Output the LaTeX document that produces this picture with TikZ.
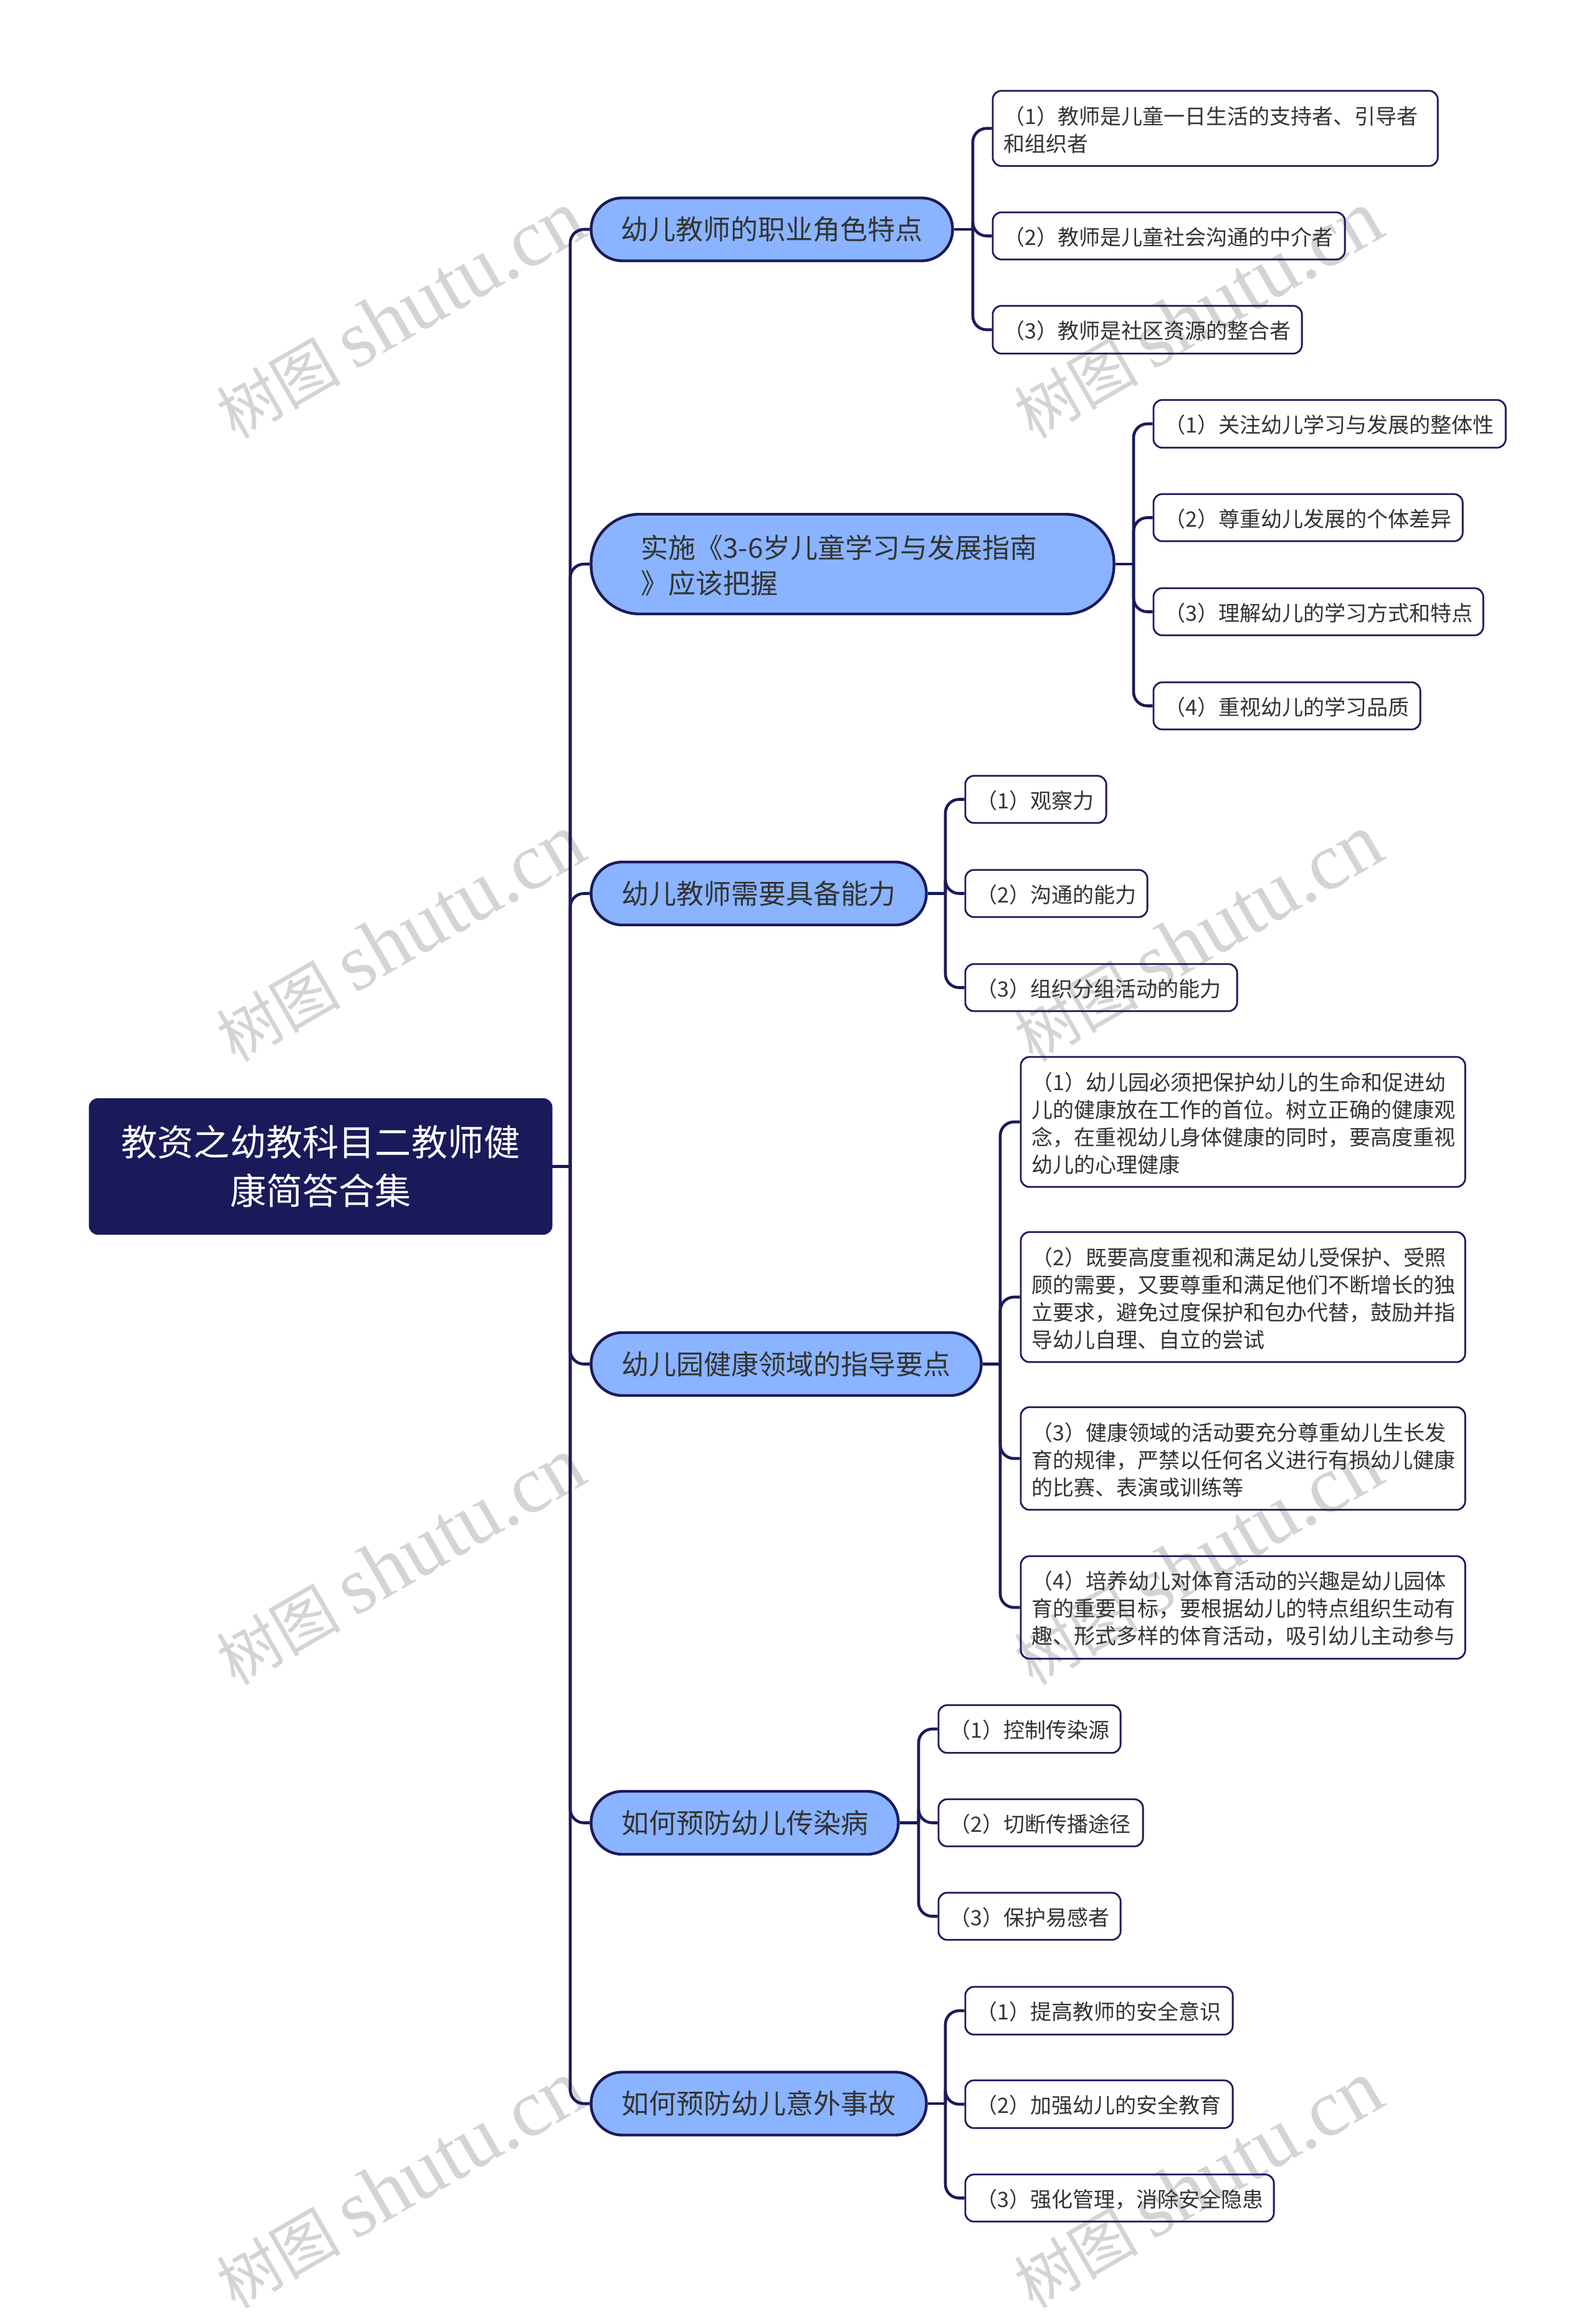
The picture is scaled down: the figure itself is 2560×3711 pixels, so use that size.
\documentclass[tikz,border=0pt]{standalone}
\usepackage{fontspec}
\setmainfont{Noto Sans CJK SC}
\newfontfamily\wmlatin{Liberation Serif}
\definecolor{navy}{HTML}{1A1A5A}
\definecolor{skyb}{HTML}{8AB4FF}
\definecolor{ink}{HTML}{333333}
\definecolor{wm}{HTML}{D4D4D4}
\tikzset{
 x=0.5pt,y=-0.5pt,
 wmark/.style={text=wm,font=\fontsize{50}{60}\selectfont,rotate=30,inner sep=0pt},
 rootbox/.style={rectangle,rounded corners=7pt,fill=navy,draw=navy,text=white,align=center,
   font=\fontsize{29.1}{39}\selectfont,inner sep=0pt},
 topic/.style={rectangle,rounded corners=25pt,fill=skyb,draw=navy,line width=2.2pt,text=ink,
   font=\fontsize{22}{28.5}\selectfont,inner sep=0pt},
 topictext/.style={text=ink,font=\fontsize{22}{28.5}\selectfont,inner sep=0pt},
 leaf/.style={rectangle,rounded corners=7pt,draw=navy,line width=1.4pt,inner sep=0pt},
 leaftext/.style={text=ink,font=\fontsize{17}{22}\selectfont,inner sep=0pt,align=left},
 link/.style={draw=navy,line width=2.3pt,rounded corners=11pt},
}
% #1 name, #2 left, #3 top, #4 right, #5 bottom, #6 text
\newcommand{\boxat}[6]{%
 \pgfmathsetmacro{\bw}{(#4-#2)*0.5-0.4}\pgfmathsetmacro{\bh}{(#5-#3)*0.5-0.7}%
 \node[leaf,minimum width=\bw pt,minimum height=\bh pt] (#1) at ({(#2+#4)/2+0.5},{(#3+#5)/2}) {};%
 \node[leaftext,anchor=west] (#1txt) at ({#2+18.5},{(#3+#5)/2+2}) {#6};}
\begin{document}
\begin{tikzpicture}
\useasboundingbox (0,0) rectangle (2560,3711);
\fill[white] (0,0) rectangle (2560,3711);
% watermarks
\foreach \wx in {0,1280}{\foreach \wy in {0,1000,2000,3000}{
 \node[wmark] at ({642+\wx},{505+\wy}) {树图 {\wmlatin\fontsize{65}{70}\selectfont shutu.cn}};
}}
% root
\node[rootbox,minimum width=371.5pt,minimum height=109pt] (root) at (514.5,1871.5) {教资之幼教科目二教师健\\康简答合集};
% topics
\node[topic,minimum width=290pt,minimum height=50.5pt] (t1) at (1238.5,368) {};
\node[topic,rounded corners=39pt,minimum width=419.5pt,minimum height=80pt] (t2) at (1368,905) {};
\node[topic,minimum width=269pt,minimum height=50.5pt] (t3) at (1217.5,1433.5) {};
\node[topic,minimum width=313pt,minimum height=50.5pt] (t4) at (1261.5,2188.5) {};
\node[topic,minimum width=246.5pt,minimum height=50.5pt] (t5) at (1195,2924.5) {};
\node[topic,minimum width=269pt,minimum height=50.5pt] (t6) at (1217.5,3375) {};
\node[topictext] (tt1) at (t1) {幼儿教师的职业角色特点};
\node[topictext,anchor=west,align=left] (tt2) at (1028,907) {实施《3-6岁儿童学习与发展指南\\》应该把握};
\node[topictext] (tt3) at (t3) {幼儿教师需要具备能力};
\node[topictext] (tt4) at (t4) {幼儿园健康领域的指导要点};
\node[topictext] (tt5) at (t5) {如何预防幼儿传染病};
\node[topictext] (tt6) at (t6) {如何预防幼儿意外事故};
% leaves
\boxat{a1}{1592}{145}{2307}{267}{（1）教师是儿童一日生活的支持者、引导者\\和组织者}
\boxat{a2}{1592}{340}{2158}{417}{（2）教师是儿童社会沟通的中介者}
\boxat{a3}{1592}{490}{2089}{568}{（3）教师是社区资源的整合者}
\boxat{b1}{1850}{641}{2416}{719}{（1）关注幼儿学习与发展的整体性}
\boxat{b2}{1850}{792}{2347}{869}{（2）尊重幼儿发展的个体差异}
\boxat{b3}{1850}{943}{2380}{1020}{（3）理解幼儿的学习方式和特点}
\boxat{b4}{1850}{1094}{2279}{1171}{（4）重视幼儿的学习品质}
\boxat{c1}{1548}{1244}{1775}{1321}{（1）观察力}
\boxat{c2}{1548}{1395}{1841}{1472}{（2）沟通的能力}
\boxat{c3}{1548}{1546}{1985}{1623}{（3）组织分组活动的能力}
\boxat{d1}{1637}{1695}{2351}{1905}{（1）幼儿园必须把保护幼儿的生命和促进幼\\儿的健康放在工作的首位。树立正确的健康观\\念，在重视幼儿身体健康的同时，要高度重视\\幼儿的心理健康}
\boxat{d2}{1637}{1976}{2351}{2186}{（2）既要高度重视和满足幼儿受保护、受照\\顾的需要，又要尊重和满足他们不断增长的独\\立要求，避免过度保护和包办代替，鼓励并指\\导幼儿自理、自立的尝试}
\boxat{d3}{1637}{2257}{2351}{2423}{（3）健康领域的活动要充分尊重幼儿生长发\\育的规律，严禁以任何名义进行有损幼儿健康\\的比赛、表演或训练等}
\boxat{d4}{1637}{2496}{2351}{2662}{（4）培养幼儿对体育活动的兴趣是幼儿园体\\育的重要目标，要根据幼儿的特点组织生动有\\趣、形式多样的体育活动，吸引幼儿主动参与}
\boxat{e1}{1505}{2735}{1798}{2813}{（1）控制传染源}
\boxat{e2}{1505}{2886}{1834}{2963}{（2）切断传播途径}
\boxat{e3}{1505}{3036}{1798}{3113}{（3）保护易感者}
\boxat{f1}{1548}{3187}{1978}{3265}{（1）提高教师的安全意识}
\boxat{f2}{1548}{3337}{1978}{3415}{（2）加强幼儿的安全教育}
\boxat{f3}{1548}{3488}{2044}{3565}{（3）强化管理，消除安全隐患}
% connectors
\coordinate (trunk) at (915,1871.5);
\draw[link] (root.east) -- (trunk);
\foreach \t in {t1,t2,t3,t4,t5,t6}{\draw[link] (trunk) |- (\t.west);}
\foreach \t/\vx/\kids in {t1/1561/{a1,a2,a3},t2/1819/{b1,b2,b3,b4},t3/1517/{c1,c2,c3},t4/1605/{d1,d2,d3,d4},t5/1474/{e1,e2,e3},t6/1517/{f1,f2,f3}}{
 \coordinate (j) at (\vx,0);
 \draw[link] (\t.east) -- (\t.east -| j);
 \foreach \k in \kids {\draw[link] (\t.east -| j) |- (\k.west);}
}
\end{tikzpicture}
\end{document}
